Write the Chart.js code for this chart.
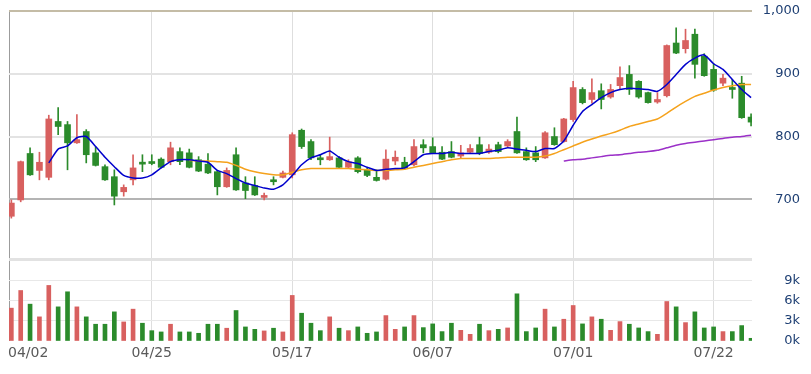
<!DOCTYPE html>
<html>
<head>
<meta charset="utf-8">
<title>Daily chart</title>
<script src="https://cdn.jsdelivr.net/npm/chart.js@4.4.0/dist/chart.umd.min.js"></script>
<style>
  html, body { margin: 0; padding: 0; background: #fff; }
  #wrap { width: 811px; height: 374px; }
</style>
</head>
<body>
<div id="wrap"><canvas id="chart" width="811" height="374"></canvas></div>
<script>
// x axis labels, placed on these candle indexes
const dateLabels = ['04/02', '04/25', '05/17', '06/07', '07/01', '07/22'];
const dateTickIndex = [0, 15, 30, 45, 60, 75];
const priceTicks = [700, 800, 900, 1000];
const volumeTicks = [0, 3000, 6000, 9000, 12000];

// daily candles (80 sessions)
const openPrices = [
  673, 699, 773, 746, 735, 824, 819, 790, 808, 774, 752, 736, 712, 731, 759, 759, 764, 760, 776, 774,
  763, 756, 744, 720, 771, 726, 722, 703, 731, 735, 739, 810, 792, 766, 763, 766, 751, 766, 747, 735,
  732, 761, 759, 755, 787, 784, 775, 776, 769, 775, 787, 775, 787, 785, 808, 776, 774, 766, 800, 792,
  827, 875, 859, 873, 863, 881, 899, 888, 870, 855, 865, 949, 940, 963, 928, 907, 885, 878, 885, 831
];
const highPrices = [
  699, 761, 782, 775, 834, 846, 824, 835, 811, 783, 755, 747, 723, 771, 771, 771, 766, 791, 782, 780,
  768, 773, 745, 750, 782, 736, 736, 710, 736, 745, 806, 812, 795, 771, 799, 768, 763, 768, 750, 747,
  779, 777, 767, 795, 795, 798, 784, 792, 786, 787, 799, 787, 791, 795, 831, 782, 784, 808, 814, 829,
  888, 878, 892, 884, 883, 911, 913, 889, 871, 870, 946, 973, 971, 971, 932, 916, 899, 891, 896, 836
];
const lowPrices = [
  670, 696, 738, 731, 731, 803, 747, 789, 758, 753, 730, 691, 705, 723, 744, 755, 750, 755, 755, 750,
  744, 741, 707, 719, 714, 701, 706, 699, 723, 734, 734, 781, 763, 755, 762, 750, 749, 742, 736, 729,
  731, 755, 748, 753, 774, 773, 763, 766, 766, 773, 771, 773, 774, 783, 773, 762, 760, 765, 786, 791,
  824, 852, 853, 844, 861, 875, 867, 861, 853, 853, 863, 932, 933, 893, 896, 872, 881, 861, 829, 817
];
const closePrices = [
  694, 760, 739, 759, 828, 816, 790, 795, 771, 754, 731, 705, 719, 750, 756, 757, 751, 782, 760, 751,
  745, 742, 720, 746, 715, 714, 707, 705, 728, 742, 803, 784, 766, 763, 768, 751, 760, 744, 738, 730,
  764, 767, 750, 784, 782, 774, 764, 767, 774, 781, 773, 780, 776, 792, 774, 763, 763, 806, 787, 828,
  878, 854, 870, 859, 875, 894, 875, 863, 854, 859, 945, 933, 953, 915, 897, 874, 893, 875, 830, 823
];
const volumes = [
  4860, 7470, 5450, 3570, 8220, 5050, 7280, 5050, 3570, 2480, 2480, 4310, 2820, 4710, 2630, 1530, 1340, 2480, 1340, 1340,
  1140, 2480, 2480, 1890, 4510, 2080, 1730, 1490, 1890, 1340, 6740, 4110, 2630, 1530, 3570, 1890, 1530, 2080, 1140, 1340,
  3760, 1730, 2080, 3760, 1980, 2530, 1390, 2630, 1580, 990, 2480, 1530, 1730, 1930, 6980, 1390, 1930, 4710, 2080, 3220,
  5250, 2530, 3570, 3220, 1580, 2870, 2480, 1930, 1390, 990, 5840, 5050, 2720, 4310, 1930, 2080, 1390, 1390, 2280, 400
];

// moving averages, each starting at its own index
const ma5Start = 4;
const ma5 = [
  758, 780, 785, 798, 800, 784, 767, 752, 738, 734, 734, 739, 750, 760, 763, 763, 761, 759, 746, 741,
  733, 726, 722, 718, 716, 723, 738, 755, 766, 771, 777, 767, 760, 757, 751, 746, 748, 749, 750, 760,
  771, 773, 773, 775, 773, 773, 773, 776, 778, 782, 780, 778, 776, 781, 781, 793, 818, 840, 851, 862,
  870, 875, 877, 876, 875, 872, 883, 899, 915, 925, 930, 916, 907, 891, 875, 862
];
const ma20Start = 19;
const ma20 = [
  762, 761, 761, 760, 759, 754, 748, 744, 741, 739, 739, 743, 747, 749, 749, 749, 749, 749, 748, 747,
  746, 746, 747, 748, 751, 754, 757, 760, 763, 765, 765, 765, 765, 766, 767, 767, 767, 767, 769, 773,
  779, 785, 791, 796, 801, 805, 810, 816, 820, 824, 828, 837, 847, 856, 864, 869, 874, 878, 881, 883, 883
];
const ma60Start = 59;
const ma60 = [
  761, 763, 764, 766, 768, 770, 771, 773, 775, 776, 778, 782, 786, 789, 791, 793, 795, 797, 799, 800, 802
];

const UP = '#d8605f';
const DOWN = '#2b8b2b';

const ChartBuilder = {
  candleColors() {
    return openPrices.map((o, i) => closePrices[i] >= o ? UP : DOWN);
  },

  maPoints(start, values) {
    return values.map((v, k) => ({ x: start + k, y: v }));
  },

  // date labels: the first one sits flush with the left border
  dateLabelPlugin: {
    id: 'dateLabels',
    afterDraw(chart) {
      const { ctx, chartArea, scales } = chart;
      ctx.save();
      ctx.font = '14px "DejaVu Sans"';
      ctx.fillStyle = '#5a5a5a';
      ctx.textBaseline = 'middle';
      const y = chartArea.bottom + 12;
      dateTickIndex.forEach((idx, k) => {
        if (k === 0) {
          ctx.textAlign = 'left';
          ctx.fillText(dateLabels[k], chartArea.left - 1, y);
        } else {
          ctx.textAlign = 'center';
          ctx.fillText(dateLabels[k], scales.x.getPixelForValue(idx), y);
        }
      });
      ctx.restore();
    }
  },

  create(canvasId) {
    const colors = this.candleColors();
    const idx = openPrices.map((_, i) => i);
    const tickFont = { family: 'DejaVu Sans', size: 13 };

    return new Chart(document.getElementById(canvasId), {
      type: 'bar',
      data: {
        datasets: [
          {
            type: 'line',
            data: this.maPoints(ma5Start, ma5),
            borderColor: '#0000cc',
            borderWidth: 1.5,
            pointRadius: 0,
            tension: 0.2,
            yAxisID: 'y',
            order: 0
          },
          {
            type: 'line',
            data: this.maPoints(ma20Start, ma20),
            borderColor: '#f5a21c',
            borderWidth: 1.5,
            pointRadius: 0,
            tension: 0.2,
            yAxisID: 'y',
            order: 0
          },
          {
            type: 'line',
            data: this.maPoints(ma60Start, ma60),
            borderColor: '#9b30c8',
            borderWidth: 1.5,
            pointRadius: 0,
            tension: 0.2,
            yAxisID: 'y',
            order: 0
          },
          {
            data: idx.map(i => ({ x: i, y: [openPrices[i], closePrices[i]] })),
            backgroundColor: colors,
            barThickness: 6,
            minBarLength: 2,
            grouped: false,
            yAxisID: 'y',
            order: 1
          },
          {
            data: idx.map(i => ({ x: i, y: [lowPrices[i], highPrices[i]] })),
            backgroundColor: colors,
            barThickness: 1,
            grouped: false,
            yAxisID: 'y',
            order: 2
          },
          {
            data: idx.map(i => ({ x: i, y: volumes[i] })),
            backgroundColor: colors,
            barThickness: 4,
            grouped: false,
            yAxisID: 'yv',
            order: 3
          }
        ]
      },
      options: {
        responsive: false,
        devicePixelRatio: 1,
        animation: false,
        layout: { padding: { top: 11, right: 11, bottom: 33, left: 9 } },
        plugins: {
          legend: { display: false },
          tooltip: { enabled: false }
        },
        scales: {
          x: {
            type: 'linear',
            offset: false,
            min: -0.25,
            max: 79.1,
            afterBuildTicks: s => {
              s.ticks = [-0.25].concat(dateTickIndex.slice(1)).map(v => ({ value: v }));
            },
            ticks: { display: false },
            grid: {
              offset: false,
              drawTicks: false,
              lineWidth: 1,
              color: ctx => (ctx.tick && ctx.tick.value < 0) ? '#9c9c9c' : '#dedede'
            },
            border: { display: false }
          },
          y: {
            type: 'linear',
            position: 'right',
            stack: 'panes',
            stackWeight: 248.5,
            min: 603.5,
            max: 1000,
            afterBuildTicks: s => { s.ticks = priceTicks.map(v => ({ value: v })); },
            afterFit: s => { s.width = 48; },
            ticks: {
              autoSkip: false,
              crossAlign: 'far',
              padding: 0,
              color: '#1e3f73',
              font: tickFont,
              callback: v => v.toLocaleString('en-US')
            },
            grid: {
              drawTicks: false,
              lineWidth: 2,
              color: ctx => {
                const v = ctx.tick ? ctx.tick.value : 0;
                if (v === 1000) return '#c4bca6';
                if (v === 700) return '#b4b4b4';
                return '#e3e3e3';
              }
            },
            border: { display: false }
          },
          yv: {
            type: 'linear',
            position: 'right',
            stack: 'panes',
            stackWeight: 81,
            min: 0,
            max: 12000,
            afterBuildTicks: s => { s.ticks = volumeTicks.map(v => ({ value: v })); },
            afterFit: s => { s.width = 48; },
            ticks: {
              autoSkip: false,
              crossAlign: 'far',
              padding: 0,
              color: '#1e3f73',
              font: tickFont,
              callback: v => v === 12000 ? '' : (v / 1000) + 'k'
            },
            grid: {
              drawTicks: false,
              lineWidth: ctx => (ctx.tick && ctx.tick.value === 12000) ? 3 : 1,
              color: ctx => {
                const v = ctx.tick ? ctx.tick.value : 0;
                if (v === 0) return 'rgba(0,0,0,0)';
                if (v === 12000) return '#e2e2e2';
                return '#e8e8e8';
              }
            },
            border: { display: false }
          }
        }
      },
      plugins: [this.dateLabelPlugin]
    });
  }
};

ChartBuilder.create('chart');
</script>
</body>
</html>
